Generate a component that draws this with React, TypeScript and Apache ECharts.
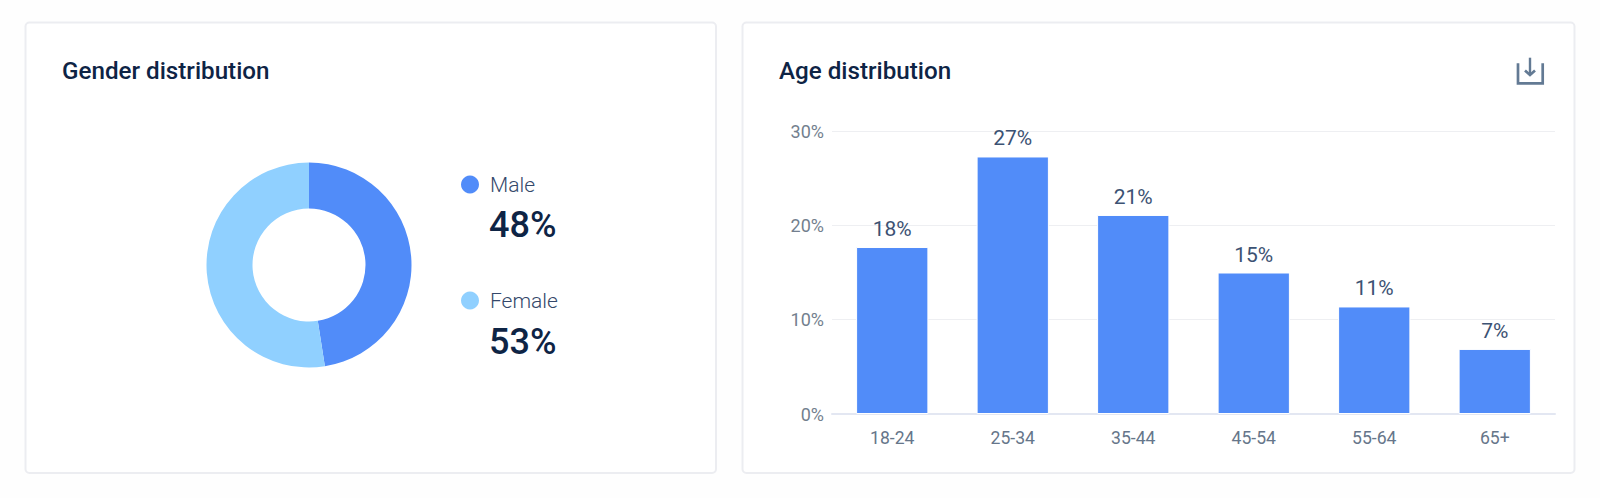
import React, { useEffect, useRef } from "react";
import * as echarts from "echarts";

const genderNames = ["Male", "Female"];
const genderValues = [48, 53];
const genderColors = ["#518cf9", "#90d0ff"];
const ageCategories = ["18-24", "25-34", "35-44", "45-54", "55-64", "65+"];
const ageValues = [17.7, 27.3, 21.1, 15.0, 11.4, 6.9];

export default function App() {
  const ref = useRef<HTMLDivElement>(null);
  useEffect(() => {
    document.body.style.margin = "0";
    document.body.style.background = "#fefefe";
    const chart = echarts.init(ref.current!, undefined, { renderer: "svg" });
    const font = "Roboto";
    const card = (x: number, y: number, w: number, h: number) => ({
      type: "rect",
      z: -10,
      shape: { x, y, width: w, height: h, r: 4 },
      style: { fill: "#ffffff", stroke: "#ecedf1", lineWidth: 2 },
    });
    const iconColor = "#637a94";
    const iconStyle = { fill: "none", stroke: iconColor, lineWidth: 2.7 };
    chart.setOption({
      animation: false,
      backgroundColor: "#fefefe",
      textStyle: { fontFamily: font },
      title: [
        {
          text: "Gender distribution",
          left: 57,
          top: 54,
          textStyle: { fontFamily: font, fontSize: 24.2, fontWeight: 500, color: "#0e2445" },
        },
        {
          text: "Age distribution",
          left: 774,
          top: 54,
          textStyle: { fontFamily: font, fontSize: 24.2, fontWeight: 500, color: "#0e2445" },
        },
      ],
      legend: {
        orient: "vertical",
        left: 456,
        top: 169,
        itemGap: 95,
        itemWidth: 18,
        itemHeight: 18,
        itemStyle: { borderWidth: 0 },
        icon: "circle",
        selectedMode: false,
        data: genderNames,
        textStyle: { fontFamily: font, fontSize: 21, fontWeight: 300, color: "#34486a", padding: [0, 0, 0, 6] },
      },
      grid: { left: 832, right: 45, top: 131, bottom: 84 },
      xAxis: {
        type: "category",
        data: ageCategories,
        axisTick: { show: false },
        axisLine: { lineStyle: { color: "#e3e7f2", width: 2 } },
        axisLabel: { fontFamily: font, fontSize: 17.6, color: "#66768a", margin: 15 },
      },
      yAxis: {
        type: "value",
        min: 0,
        max: 30,
        interval: 10,
        axisLine: { show: false },
        axisTick: { show: false },
        splitLine: { lineStyle: { color: "#eeeff2", width: 1 } },
        axisLabel: {
          fontFamily: font,
          fontSize: 18,
          color: "#737f8e",
          margin: 8,
          padding: [3, 0, 0, 0],
          formatter: "{value}%",
        },
      },
      series: [
        {
          type: "pie",
          center: [309, 265],
          radius: [56.5, 102.5],
          startAngle: 90,
          clockwise: true,
          label: { show: false },
          labelLine: { show: false },
          emphasis: { disabled: true },
          data: genderNames.map((name, i) => ({
            name,
            value: genderValues[i],
            itemStyle: { color: genderColors[i] },
          })),
        },
        {
          type: "bar",
          data: ageValues,
          barWidth: "60%",
          itemStyle: { color: "#518cf9", borderColor: "#ffffff", borderWidth: 1 },
          label: {
            show: true,
            position: "top",
            distance: 7.5,
            fontFamily: font,
            fontSize: 21,
            color: "#3c5273",
            formatter: (p: any) => Math.round(p.value) + "%",
          },
        },
      ],
      graphic: [
        card(25.5, 22.5, 690.5, 450.5),
        card(742.5, 22.5, 832, 450.5),
        ...genderValues.map((v, i) => ({
          type: "text",
          x: 489,
          y: 207 + i * 117,
          style: {
            text: v + "%",
            fontFamily: font,
            fontSize: 36,
            fontWeight: 500,
            fill: "#0e2445",
          },
        })),
        { type: "polyline", shape: { points: [[1518, 63.3], [1518, 83.4], [1542.7, 83.4], [1542.7, 63.3]] }, style: iconStyle },
        { type: "line", shape: { x1: 1530, y1: 57.7, x2: 1530, y2: 74 }, style: { fill: "none", stroke: iconColor, lineWidth: 2.4 } },
        { type: "polyline", shape: { points: [[1525, 70.5], [1530, 75], [1535, 70.5]] }, style: iconStyle },
      ],
    });
    return () => chart.dispose();
  }, []);
  return <div ref={ref} style={{ width: 1600, height: 498 }} />;
}
